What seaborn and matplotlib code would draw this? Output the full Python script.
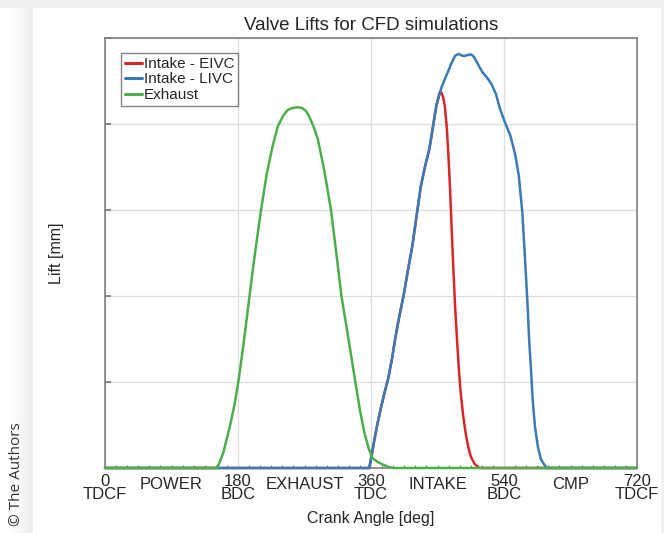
import numpy as np
import pandas as pd
import matplotlib
matplotlib.use("Agg")
import matplotlib.pyplot as plt
from matplotlib.patches import Rectangle
import seaborn as sns

# ---------------- data ----------------
exh_deg = [0, 152, 160, 169, 175, 181, 188, 195, 203, 211, 219, 227, 234, 241, 247, 253,
           260, 267, 272, 276, 282, 288, 297, 306, 313, 320, 330, 339, 345, 351, 357, 362,
           369, 376, 383, 390, 720]
exh_lift = [0, 0, 0.35, 0.97, 1.45, 2.06, 2.95, 3.92, 5.0, 5.98, 6.85, 7.5, 7.95, 8.19, 8.32, 8.37,
            8.39, 8.37, 8.3, 8.19, 7.95, 7.65, 6.9, 5.98, 5.0, 4.0, 2.95, 1.98, 1.35, 0.82, 0.45, 0.23,
            0.14, 0.08, 0.03, 0, 0]

livc_deg = [0, 357.6, 361, 364.6, 369, 374, 379, 383, 388, 392.6, 398, 404, 410, 416, 422,
            427.5, 433, 439, 444, 448.5, 455.4, 460, 464.8, 469, 474, 478.7, 482, 485.7, 490,
            495, 498.5, 502, 506, 511, 517, 523, 529, 534.6, 541, 548.6, 555, 560, 564.8,
            567, 569.5, 572, 574, 576.5, 578.8, 582, 585.8, 590, 597.5, 720]
livc_lift = [0, 0, 0.3, 0.66, 1.05, 1.44, 1.8, 2.06, 2.5, 2.99, 3.5, 4.0, 4.6, 5.17, 5.9,
             6.56, 7.0, 7.42, 7.95, 8.43, 8.85, 9.05, 9.24, 9.42, 9.59, 9.63, 9.6, 9.58, 9.6,
             9.62, 9.58, 9.48, 9.35, 9.2, 9.08, 8.93, 8.7, 8.35, 8.05, 7.73, 7.3, 6.8, 5.94,
             5.3, 4.54, 3.75, 2.99, 2.3, 1.59, 0.95, 0.5, 0.2, 0, 0]

eivc_deg = [0, 357.6, 361, 364.6, 369, 374, 379, 383, 388, 392.6, 398, 404, 410, 416, 422,
            427.5, 433, 439, 444, 448.5, 453, 455.5, 457.8, 460, 462.4, 464.7, 467, 469.3,
            471.7, 474, 476.4, 478.7, 481, 484.5, 488, 491.5, 495, 500, 506.7, 720]
eivc_lift = [0, 0, 0.3, 0.66, 1.05, 1.44, 1.8, 2.06, 2.5, 2.99, 3.5, 4.0, 4.6, 5.17, 5.9,
             6.56, 7.0, 7.42, 7.95, 8.43, 8.74, 8.72, 8.62, 8.4, 7.96, 7.3, 6.49, 5.5,
             4.54, 3.7, 2.99, 2.35, 1.83, 1.25, 0.82, 0.5, 0.27, 0.1, 0, 0]

series_names = ["Intake - EIVC", "Intake - LIVC", "Exhaust"]
series_colors = ["#d62728", "#3a7ab5", "#4cae4c"]

major_ticks = [0, 180, 360, 540, 720]
major_labels = ["0\nTDCF", "180\nBDC", "360\nTDC", "540\nBDC", "720\nTDCF"]
phase_pos = [90, 270, 450, 630]
phase_labels = ["POWER", "EXHAUST", "INTAKE", "CMP"]

# ---------------- build table ----------------
frames = []
for name, d, l in zip(series_names, [eivc_deg, livc_deg, exh_deg], [eivc_lift, livc_lift, exh_lift]):
    frames.append(pd.DataFrame({"deg": d, "lift": l, "valve": name}))
df = pd.concat(frames, ignore_index=True)

sns.set_theme(style="white")
plt.rcParams["font.family"] = ["Liberation Sans", "DejaVu Sans"]

W, H = 664, 533
fig = plt.figure(figsize=(W / 100, H / 100), dpi=100, facecolor="white")

# page background: gray band + shadow, white card
bg = fig.add_axes([0, 0, 1, 1], zorder=-10)
bg.set_xlim(0, W)
bg.set_ylim(H, 0)
bg.axis("off")
bg.add_patch(Rectangle((0, 0), W, H, color="#ffffff"))
bg.add_patch(Rectangle((0, 0), W, 8, color="#efefef"))
bg.add_patch(Rectangle((660, 0), 4, H, color="#efefef"))
for i in range(33):
    t = i / 32.0
    g = 1.0 - 0.085 * t ** 2
    bg.add_patch(Rectangle((i, 8), 1, H - 8, color=(g, g, g), lw=0))
bg.add_patch(Rectangle((33, 8), 627, H - 8, color="#ffffff"))
bg.text(17, 526, "\u00a9 The Authors", rotation=90, ha="center", va="bottom",
        fontsize=11, color="#333333", family=["Open Sans", "DejaVu Sans"])

ax = fig.add_axes([105 / W, 1 - 468 / H, (637 - 105) / W, (468 - 38) / H])
ax.set_facecolor("white")

sns.lineplot(data=df, x="deg", y="lift", hue="valve", hue_order=series_names,
             palette=series_colors, linewidth=1.8, ax=ax, sort=False,
             estimator=None, legend=True)
for ln in ax.get_lines():
    ln.set_clip_on(False)
    ln.set_zorder(3)

ax.set_xlim(0, 720)
ax.set_ylim(0, 10)
ax.set_xticks(major_ticks)
ax.set_xticklabels(major_labels, fontsize=12, linespacing=0.85)
ax.set_xticks(np.arange(0, 721, 15), minor=True)
ax.set_yticks([0, 2, 4, 6, 8, 10])
ax.set_yticklabels([])
ax.grid(True, which="major", color="#dddddd", linewidth=0.9)
ax.tick_params(axis="x", which="major", direction="in", length=4, color="#777777", pad=4)
ax.tick_params(axis="x", which="minor", direction="in", length=2.5, width=0.8,
               color="#777777", bottom=True)
ax.tick_params(axis="y", which="major", direction="in", length=4, color="#777777", left=True)
for s in ax.spines.values():
    s.set_color("#808080")
    s.set_linewidth(1.2)

trans = ax.get_xaxis_transform()
for p, lab in zip(phase_pos, phase_labels):
    ax.text(p, -0.02, lab, transform=trans, ha="center", va="top", fontsize=12)

ax.set_xlabel("Crank Angle [deg]", fontsize=11.5, labelpad=7)
ax.set_ylabel("Lift [mm]", fontsize=11.5, labelpad=26)
ax.set_title("Valve Lifts for CFD simulations", fontsize=13.5, pad=6)

leg = ax.legend(loc="upper left", bbox_to_anchor=(0.03, 0.965), frameon=True, fancybox=False,
                fontsize=11, handlelength=1.1, handletextpad=0.15, borderpad=0.25,
                labelspacing=0.1, borderaxespad=0)
leg.get_frame().set_edgecolor("#666666")
leg.get_frame().set_linewidth(1.0)
for line in leg.get_lines():
    line.set_linewidth(2.2)

fig.savefig("out.png", dpi=100, facecolor="white")
